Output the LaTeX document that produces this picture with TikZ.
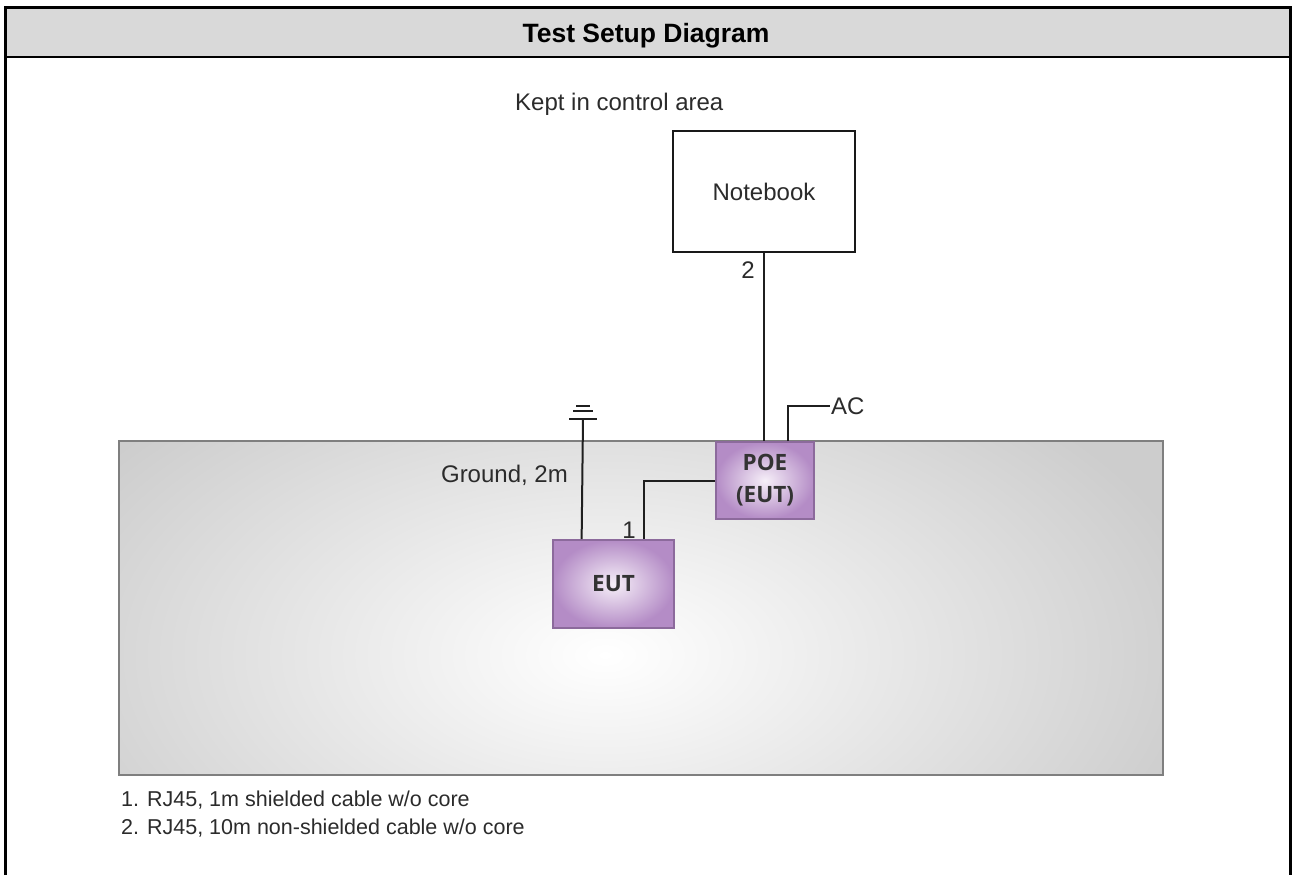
\documentclass[tikz,border=0pt]{standalone}
\usepackage{fontspec}
\setmainfont{Liberation Sans}
\newfontfamily\boxfont{Open Sans}
\usetikzlibrary{calc}
\definecolor{headgray}{HTML}{D9D9D9}
\definecolor{tablegray}{HTML}{CDCDCD}
\definecolor{tableedge}{HTML}{7F7F7F}
\definecolor{purpleout}{HTML}{B48CC6}
\definecolor{purplein}{HTML}{F6EFF8}
\definecolor{purpleedge}{HTML}{8C6A9C}
\definecolor{labeltext}{HTML}{2B2B2B}
\tikzset{
  wire/.style={line width=2pt, draw=black!88},
  lbl/.style={font=\fontsize{24}{28}\selectfont, text=labeltext, inner sep=0pt},
  notetext/.style={font=\fontsize{21.5}{28}\selectfont, text=labeltext, inner sep=0pt},
  device/.style={draw=purpleedge, line width=1.6pt, shade, inner color=purplein, outer color=purpleout,
    font=\boxfont\bfseries\fontsize{22.5}{32}\selectfont, text=black!80, align=center},
  hostbox/.style={draw=black!90, line width=1.8pt, fill=white,
    font=\fontsize{24}{28}\selectfont, text=labeltext},
}
\begin{document}
\begin{tikzpicture}[x=1pt, y=-1pt]
\useasboundingbox (0,0) rectangle (1292,875);

% frame and title band
\fill[headgray] (5.7,7.3) rectangle (1291,57);
\draw[line width=2pt] (5.7,57) -- (1291,57);
\draw[line width=3.5pt] (5.7,875) -- (5.7,7.3) -- (1291,7.3) -- (1291,875);
\node[font=\bfseries\fontsize{26.5}{30}\selectfont, anchor=base, inner sep=0pt] (title) at (646,42) {Test Setup Diagram};

% test table with soft radial highlight
\begin{scope}
  \clip (119,441) rectangle (1163,775);
  \fill[tablegray] (119,441) rectangle (1163,775);
  \shade[inner color=white, outer color=tablegray] (605,655) ellipse (610 and 340);
\end{scope}
\draw[tableedge, line width=2pt] (119,441) rectangle (1163,775);

% equipment
\node[lbl, anchor=base west] (area) at (515,110) {Kept in control area};
\node[hostbox, minimum width=182pt, minimum height=121pt] (nb) at (764,191.5) {Notebook};
\node[device, minimum width=98pt, minimum height=77pt] (poe) at (765,480.5) {POE\\(EUT)};
\node[device, minimum width=121pt, minimum height=88pt] (eut) at (613.5,584) {EUT};

% cable 2: notebook to POE
\draw[wire] (nb.south) -- (nb.south |- poe.north);
\node[lbl, anchor=base east] (n2) at (755,278) {2};

% AC supply
\node[lbl, anchor=west, inner sep=1pt] (ac) at (830,406) {AC};
\coordinate (acfoot) at ($(poe.north west)!0.73!(poe.north east)$);
\draw[wire] (acfoot) |- (ac.west);

% cable 1: EUT to POE
\coordinate (c1foot) at ($(eut.north west)!0.752!(eut.north east)$);
\draw[wire] (c1foot) |- (poe.west);
\node[lbl, anchor=base east] (n1) at (636,538) {1};

% ground lead and earth symbol
\coordinate (gnd) at (583,419);
\draw[wire] ($(eut.north west)!0.24!(eut.north east)$) -- (gnd);
\draw[wire] ([xshift=-14pt]gnd) -- ([xshift=14pt]gnd);
\draw[wire] ([xshift=-10pt,yshift=8pt]gnd) -- ([xshift=10pt,yshift=8pt]gnd);
\draw[wire] ([xshift=-7pt,yshift=13pt]gnd) -- ([xshift=7pt,yshift=13pt]gnd);
\node[lbl, anchor=base east] (gl) at (568,482) {Ground, 2m};

% cable notes
\node[notetext, anchor=base west] (note1) at (121,806) {1. RJ45, 1m shielded cable w/o core};
\node[notetext, anchor=base west] (note2) at (121,834) {2. RJ45, 10m non-shielded cable w/o core};
\end{tikzpicture}
\end{document}
